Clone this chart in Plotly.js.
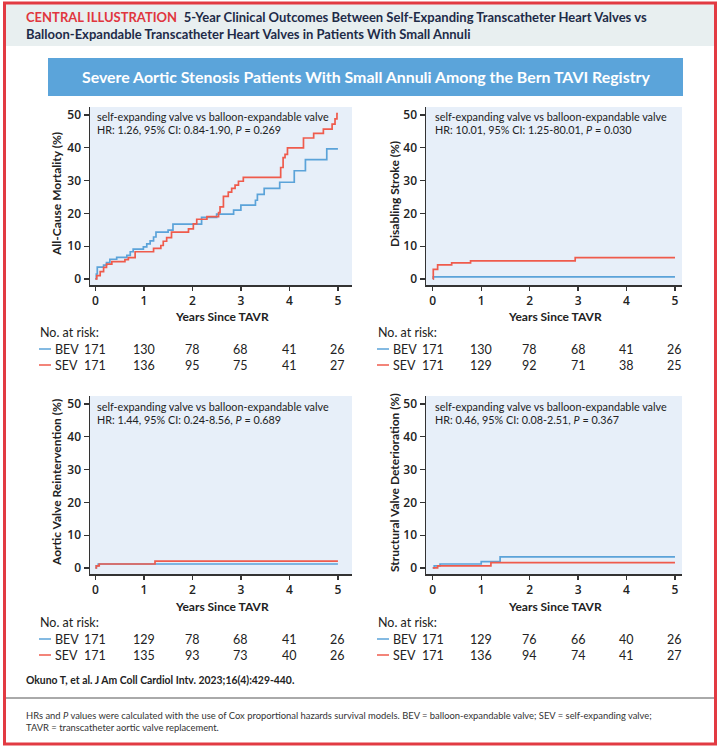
<!DOCTYPE html>
<html><head><meta charset="utf-8">
<script src="https://cdn.plot.ly/plotly-3.0.1.min.js"></script>
<style>html,body{margin:0;padding:0;background:#fff}#c{width:720px;height:747px}</style>
</head><body><div id="c"></div>
<script>
// ---------- data ----------
const tickYears = [0, 1, 2, 3, 4, 5];
const yTicks = [0, 10, 20, 30, 40, 50];

const mortBEV_t = [0,0.02,0.04,0.17,0.23,0.3,0.44,0.65,0.72,0.78,0.99,1.06,1.13,1.2,1.25,1.5,1.6,2.19,2.5,2.85,3.0,3.3,3.34,3.48,3.8,4.1,4.33,4.77,5];
const mortBEV_v = [0,1.5,3.6,4.2,5.0,6.0,6.6,7.2,8.3,9.1,9.8,10.7,11.6,12.8,14.3,14.9,16.7,18.8,19.8,21.0,22.5,24.0,25.8,27.6,29.5,33.0,36.4,39.7,39.7];
const mortSEV_t = [0,0.03,0.1,0.17,0.23,0.34,0.61,0.68,0.82,1.2,1.35,1.4,1.47,1.57,1.92,2.02,2.09,2.3,2.54,2.57,2.64,2.74,2.81,2.88,2.95,3.05,3.82,3.87,3.91,3.96,4.29,4.5,4.7,4.88,4.94,4.98,5];
const mortSEV_v = [0,1.0,2.2,3.5,4.5,5.3,5.9,6.5,8.3,9.3,10.2,11.5,12.6,14.3,15.3,16.8,18.2,19.0,20.2,22.0,25.2,26.5,27.6,28.6,29.8,31.0,34.0,37.0,38.0,40.0,43.0,44.4,45.7,47.2,48.8,50.4,50.4];

const strokeBEV_t = [0,0.01,5];
const strokeBEV_v = [0,0.6,0.6];
const strokeSEV_t = [0,0.01,0.1,0.39,0.78,2.94,5];
const strokeSEV_v = [0,2.9,4.3,4.9,5.5,6.5,6.5];

const reintBEV_t = [0,0.02,0.06,5];
const reintBEV_v = [0,0.6,1.2,1.2];
const reintSEV_t = [0,0.02,0.08,1.23,5];
const reintSEV_v = [0,0.6,1.2,2.1,2.1];

const svdBEV_t = [0,0.03,0.15,1.0,1.39,5];
const svdBEV_v = [0,0.6,1.2,1.9,3.4,3.4];
const svdSEV_t = [0,0.1,1.2,5];
const svdSEV_v = [0,0.6,1.6,1.6];

const riskMortBEV = [171,130,78,68,41,26];
const riskMortSEV = [171,136,95,75,41,27];
const riskStrokeBEV = [171,130,78,68,41,26];
const riskStrokeSEV = [171,129,92,71,38,25];
const riskReintBEV = [171,129,78,68,41,26];
const riskReintSEV = [171,135,93,73,40,26];
const riskSvdBEV = [171,129,76,66,40,26];
const riskSvdSEV = [171,136,94,74,41,27];

const yTitles = ['All-Cause Mortality (%)','Disabling Stroke (%)','Aortic Valve Reintervention (%)','Structural Valve Deterioration (%)'];
const hrTexts = ['HR: 1.26, 95% CI: 0.84-1.90, <i>P</i> = 0.269','HR: 10.01, 95% CI: 1.25-80.01, <i>P</i> = 0.030','HR: 1.44, 95% CI: 0.24-8.56, <i>P</i> = 0.689','HR: 0.46, 95% CI: 0.08-2.51, <i>P</i> = 0.367'];
const compText = 'self-expanding valve vs balloon-expandable valve';
const xTitle = 'Years Since TAVR';

// ---------- layout helpers ----------
const W = 720, H = 747;
const px = x => x / W;
const py = y => 1 - y / H;
const BLUE = '#5ba3d9', RED = '#ef5b4c';
const FONT = 'Lato, Roboto, sans-serif';
const TXT = '#222';

const panels = [
  {x0:90, x1:352, y0:107, y1:285, xr:[-0.11,5.29]},
  {x0:426, x1:682, y0:107, y1:285, xr:[-0.14,5.145]},
  {x0:90, x1:352, y0:396, y1:574, xr:[-0.11,5.29]},
  {x0:426, x1:682, y0:396, y1:574, xr:[-0.14,5.145]}
];
const yRange = [-1.85, 52.45];

const curves = [
  [[mortBEV_t,mortBEV_v],[mortSEV_t,mortSEV_v]],
  [[strokeBEV_t,strokeBEV_v],[strokeSEV_t,strokeSEV_v]],
  [[reintBEV_t,reintBEV_v],[reintSEV_t,reintSEV_v]],
  [[svdBEV_t,svdBEV_v],[svdSEV_t,svdSEV_v]]
];
const risks = [[riskMortBEV,riskMortSEV],[riskStrokeBEV,riskStrokeSEV],[riskReintBEV,riskReintSEV],[riskSvdBEV,riskSvdSEV]];

const traces = [];
const layout = {
  width: W, height: H,
  margin: {l:0, r:0, t:0, b:0},
  paper_bgcolor: '#ffffff',
  plot_bgcolor: '#e7eff9',
  showlegend: false,
  shapes: [], annotations: []
};

panels.forEach((p, i) => {
  const n = i + 1;
  const xa = 'xaxis' + (n === 1 ? '' : n), ya = 'yaxis' + (n === 1 ? '' : n);
  const xid = 'x' + (n === 1 ? '' : n), yid = 'y' + (n === 1 ? '' : n);
  const tf = {family: 'Open Sans, sans-serif', size: 12, color: TXT, weight: 600};
  layout[xa] = {
    domain: [px(p.x0), px(p.x1)], anchor: yid, range: p.xr,
    tickvals: tickYears, ticks: 'outside', ticklen: 4, tickwidth: 1.3, tickcolor: '#333',
    showline: true, linecolor: '#333', linewidth: 1.5, showgrid: false, zeroline: false,
    tickfont: tf
  };
  layout[ya] = {
    domain: [py(p.y1), py(p.y0)], anchor: xid, range: yRange,
    tickvals: yTicks, ticks: 'outside', ticklen: 5, tickwidth: 1.3, tickcolor: '#333',
    showline: true, linecolor: '#333', linewidth: 1.5, showgrid: false, zeroline: false,
    tickfont: tf
  };
  const [bev, sev] = curves[i];
  traces.push({x: bev[0], y: bev[1], xaxis: xid, yaxis: yid, mode: 'lines', line: {color: BLUE, width: 1.7, shape: 'hv'}, hoverinfo: 'skip'});
  traces.push({x: sev[0], y: sev[1], xaxis: xid, yaxis: yid, mode: 'lines', line: {color: RED, width: 1.7, shape: 'hv'}, hoverinfo: 'skip'});

  const tx = (i % 2 === 0) ? 95 : 433;
  layout.annotations.push({xref:'paper', yref:'paper', x: px(tx), y: py(p.y0 + 10), xanchor:'left', yanchor:'middle', showarrow:false,
    text: compText, font:{family: FONT, size: 10.8, color: '#222'}});
  layout.annotations.push({xref:'paper', yref:'paper', x: px(tx), y: py(p.y0 + 23), xanchor:'left', yanchor:'middle', showarrow:false,
    text: hrTexts[i], font:{family: FONT, size: 10.8, color: '#222'}});
  const ytx = (i % 2 === 0) ? 56 : 394;
  layout.annotations.push({xref:'paper', yref:'paper', x: px(ytx), y: py((p.y0 + p.y1) / 2 - 2), xanchor:'center', yanchor:'middle', showarrow:false,
    textangle: -90, text: '<b>' + yTitles[i] + '</b>', font:{family: FONT, size: 12, color: TXT}});
  layout.annotations.push({xref:'paper', yref:'paper', x: px((p.x0 + p.x1) / 2 + 1), y: py(p.y1 + 32), xanchor:'center', yanchor:'middle', showarrow:false,
    text: '<b>' + xTitle + '</b>', font:{family: FONT, size: 12, color: TXT}});

  const top = (i < 2) ? 332 : 622;
  const lx = (i % 2 === 0) ? 39 : 377;
  layout.annotations.push({xref:'paper', yref:'paper', x: px(lx - 1), y: py(top), xanchor:'left', yanchor:'middle', showarrow:false,
    text: 'No. at risk:', font:{family: FONT, size: 12.5, color: TXT}});
  const rows = [['BEV', BLUE, risks[i][0], top + 17], ['SEV', RED, risks[i][1], top + 33]];
  rows.forEach(r => {
    layout.shapes.push({type:'line', xref:'paper', yref:'paper', x0: px(lx), x1: px(lx + 12), y0: py(r[3]), y1: py(r[3]), line:{color: r[1], width: 1.5}});
    layout.annotations.push({xref:'paper', yref:'paper', x: px(lx + 14), y: py(r[3]), xanchor:'left', yanchor:'middle', showarrow:false,
      text: r[0], font:{family: FONT, size: 12.5, color: TXT}});
    r[2].forEach((v, k) => {
      layout.annotations.push({xref: xid, yref:'paper', x: tickYears[k], y: py(r[3]), xanchor:'center', yanchor:'middle', showarrow:false,
        text: String(v), font:{family: FONT, size: 12.5, color: TXT}});
    });
  });
});

layout.shapes.push(
  {type:'rect', xref:'paper', yref:'paper', x0: px(6), x1: px(714), y0: py(46), y1: py(4), fillcolor:'#e8eff0', line:{width:0}, layer:'below'},
  {type:'rect', xref:'paper', yref:'paper', x0: px(48), x1: px(683), y0: py(96), y1: py(58), fillcolor:'#5ba4da', line:{width:0}, layer:'below'},
  {type:'line', xref:'paper', yref:'paper', x0: px(6), x1: px(714), y0: py(698), y1: py(698), line:{color:'#555', width:1}},
  {type:'rect', xref:'paper', yref:'paper', x0: px(4.5), x1: px(715.5), y0: py(744), y1: py(3), line:{color:'#e23a42', width:3}}
);
layout.annotations.push(
  {xref:'paper', yref:'paper', x: px(24), y: py(25.5), xanchor:'left', yanchor:'middle', align:'left', showarrow:false,
   text: '<span style="color:#e0363e"><b>CENTRAL ILLUSTRATION</b></span>  <b>5-Year Clinical Outcomes Between Self-Expanding Transcatheter Heart Valves vs</b><br><b>Balloon-Expandable Transcatheter Heart Valves in Patients With Small Annuli</b>',
   font:{family: FONT, size: 13, color:'#1e2b48'}},
  {xref:'paper', yref:'paper', x: px(366), y: py(76.5), xanchor:'center', yanchor:'middle', showarrow:false,
   text: '<b>Severe Aortic Stenosis Patients With Small Annuli Among the Bern TAVI Registry</b>',
   font:{family: FONT, size: 15.9, color:'#ffffff'}},
  {xref:'paper', yref:'paper', x: px(24), y: py(680), xanchor:'left', yanchor:'middle', showarrow:false,
   text: '<b>Okuno T, et al. J Am Coll Cardiol Intv. 2023;16(4):429-440.</b>',
   font:{family: FONT, size: 10.4, color: TXT}},
  {xref:'paper', yref:'paper', x: px(24), y: py(721), xanchor:'left', yanchor:'middle', align:'left', showarrow:false,
   text: 'HRs and <i>P</i> values were calculated with the use of Cox proportional hazards survival models. BEV = balloon-expandable valve; SEV = self-expanding valve;<br>TAVR = transcatheter aortic valve replacement.',
   font:{family: FONT, size: 9.4, color: '#333'}}
);

Plotly.newPlot('c', traces, layout, {staticPlot: true, displayModeBar: false});
</script>
</body></html>
